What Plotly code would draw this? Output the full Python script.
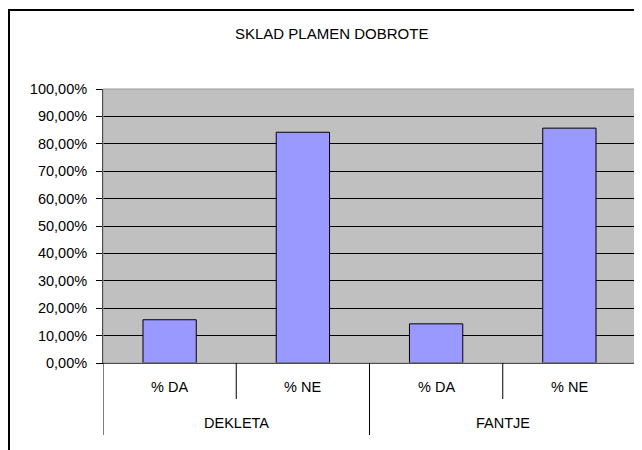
import plotly.graph_objects as go

# ---- data ----
groups = ["DEKLETA", "DEKLETA", "FANTJE", "FANTJE"]
answers = ["% DA", "% NE", "% DA", "% NE"]
values = [0.1579, 0.8421, 0.1429, 0.8571]
title_text = "SKLAD PLAMEN DOBROTE"
y_ticks = [i / 10 for i in range(11)]

FONT = "Liberation Sans, Arial, sans-serif"
OFF = 8  # page body margin offset
W, H = 642 - OFF, 450 - OFF
L, R, T, B = 103 - OFF, 642 - 636, 89 - OFF, 450 - 363
pw, ph = W - L - R, H - T - B

def px_x(x):  # page pixel -> paper x
    return (x - OFF - L) / pw

def px_y(y):  # page pixel -> paper y
    return (H - B - (y - OFF)) / ph

xs = list(range(len(values)))

fig = go.Figure()
fig.add_trace(go.Bar(
    x=xs, y=values, width=0.4,
    marker=dict(color="#9999FF", line=dict(color="black", width=1)),
    hoverinfo="skip",
))

shapes = []
# chart outer border
shapes.append(dict(type="rect", xref="paper", yref="paper",
                   x0=px_x(9), x1=px_x(680), y0=px_y(10), y1=px_y(490),
                   line=dict(color="black", width=2), fillcolor="rgba(0,0,0,0)", layer="below"))
# plot area border (light)
shapes.append(dict(type="rect", xref="paper", yref="paper",
                   x0=0, x1=1, y0=0, y1=1,
                   line=dict(color="#9a9a9a", width=1), fillcolor="rgba(0,0,0,0)", layer="above"))

# category axis dividers
n = len(values)
for i in range(n + 1):
    xb = i - 0.5
    is_group_edge = (i == 0 or i == n or groups[i - 1] != groups[i])
    y_end = px_y(435) if is_group_edge else px_y(399)
    shapes.append(dict(type="line", xref="x", yref="paper",
                       x0=xb, x1=xb, y0=0, y1=y_end,
                       line=dict(color="black", width=1)))

annotations = []
for i, a in enumerate(answers):
    annotations.append(dict(x=i, y=px_y(387), xref="x", yref="paper", text=a,
                            showarrow=False, font=dict(family=FONT, size=14.5, color="black"),
                            xanchor="center", yanchor="middle"))
seen = []
for g in groups:
    if g not in seen:
        seen.append(g)
for g in seen:
    idx = [i for i, gg in enumerate(groups) if gg == g]
    annotations.append(dict(x=sum(idx) / len(idx), y=px_y(423), xref="x", yref="paper", text=g,
                            showarrow=False, font=dict(family=FONT, size=14.5, color="black"),
                            xanchor="center", yanchor="middle"))
annotations.append(dict(x=px_x(331), y=px_y(34), xref="paper", yref="paper", text=title_text,
                        showarrow=False, font=dict(family=FONT, size=15, color="black"),
                        xanchor="center", yanchor="middle"))

fig.update_layout(
    width=W, height=H,
    margin=dict(l=L, r=R, t=T, b=B, pad=0),
    paper_bgcolor="white", plot_bgcolor="#C0C0C0",
    separators=",.",
    showlegend=False,
    shapes=shapes, annotations=annotations,
    font=dict(family=FONT, size=14.5, color="black"),
    xaxis=dict(range=[-0.5, n - 0.5], showticklabels=False, ticks="", showgrid=False,
               zeroline=False, showline=True, linecolor="black", linewidth=1, fixedrange=True),
    yaxis=dict(range=[0, 1], tickvals=y_ticks, tickformat=".2%", ticks="outside", ticklen=6,
               tickcolor="black", showgrid=True, gridcolor="black", gridwidth=1,
               zeroline=False, showline=True, linecolor="black", linewidth=1,
               ticklabelstandoff=6, tickfont=dict(family=FONT, size=14.5, color="black"),
               fixedrange=True),
)

fig.write_html("out.html")
